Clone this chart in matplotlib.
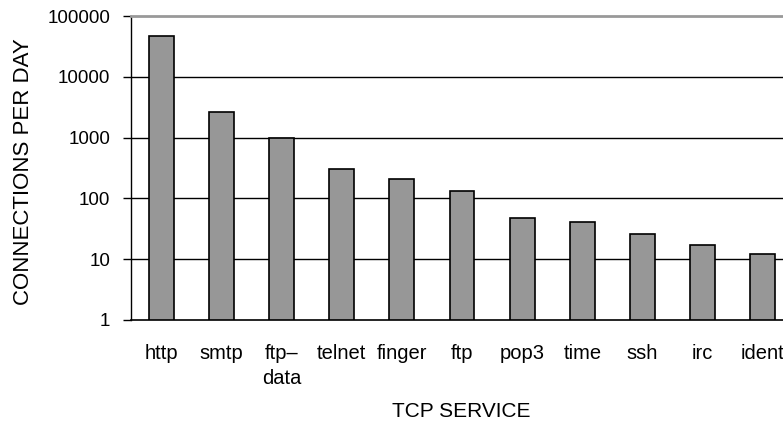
import matplotlib
matplotlib.use("Agg")
import matplotlib.pyplot as plt
import numpy as np

services = ["http", "smtp", "ftp\u2013\ndata", "telnet", "finger", "ftp", "pop3", "time", "ssh", "irc", "ident"]
connections = [47000, 2600, 980, 308, 211, 129, 47, 40, 25, 16, 11.2]
y_ticks = [1, 10, 100, 1000, 10000, 100000]
y_tick_labels = ["1", "10", "100", "1000", "10000", "100000"]

plt.rcParams['font.family'] = ['Liberation Sans', 'DejaVu Sans']

W, H = 783, 423
fig = plt.figure(figsize=(W / 100, H / 100), dpi=100)
left, right, top, bottom = 131, 793, 16, 320
ax = fig.add_axes([left / W, 1 - bottom / H, (right - left) / W, (bottom - top) / H])

x = np.arange(len(services))
ax.bar(x, connections, width=0.415, bottom=1, color="#979797", edgecolor="black",
       linewidth=1.2, zorder=3)
ax.set_yscale("log")
ax.set_ylim(1, 100000)
ax.set_xlim(-0.5, len(services) - 0.5)

ax.set_yticks(y_ticks)
ax.set_yticklabels(y_tick_labels, fontsize=13.5)
ax.yaxis.set_minor_locator(matplotlib.ticker.NullLocator())
ax.tick_params(axis="y", length=6, width=1, pad=9, color="black", direction="out")

ax.set_xticks(x)
ax.set_xticklabels(services, fontsize=14.5, multialignment="center", linespacing=1.4)
ax.tick_params(axis="x", length=0, pad=17)

for v in y_ticks[1:-1]:
    ax.axhline(v, color="black", linewidth=1.0, zorder=1)

ax.spines["top"].set_color("#999999")
ax.spines["top"].set_linewidth(2)
ax.spines["right"].set_visible(False)
ax.spines["left"].set_linewidth(1)
ax.spines["bottom"].set_linewidth(1.2)

fig.text(461 / W, 1 - 411 / H, "TCP SERVICE", fontsize=15, ha="center", va="center")
fig.text(24 / W, 1 - 172 / H, "CONNECTIONS PER DAY", rotation=90, fontsize=16,
         ha="center", va="center")

fig.savefig("out.png", dpi=100)
